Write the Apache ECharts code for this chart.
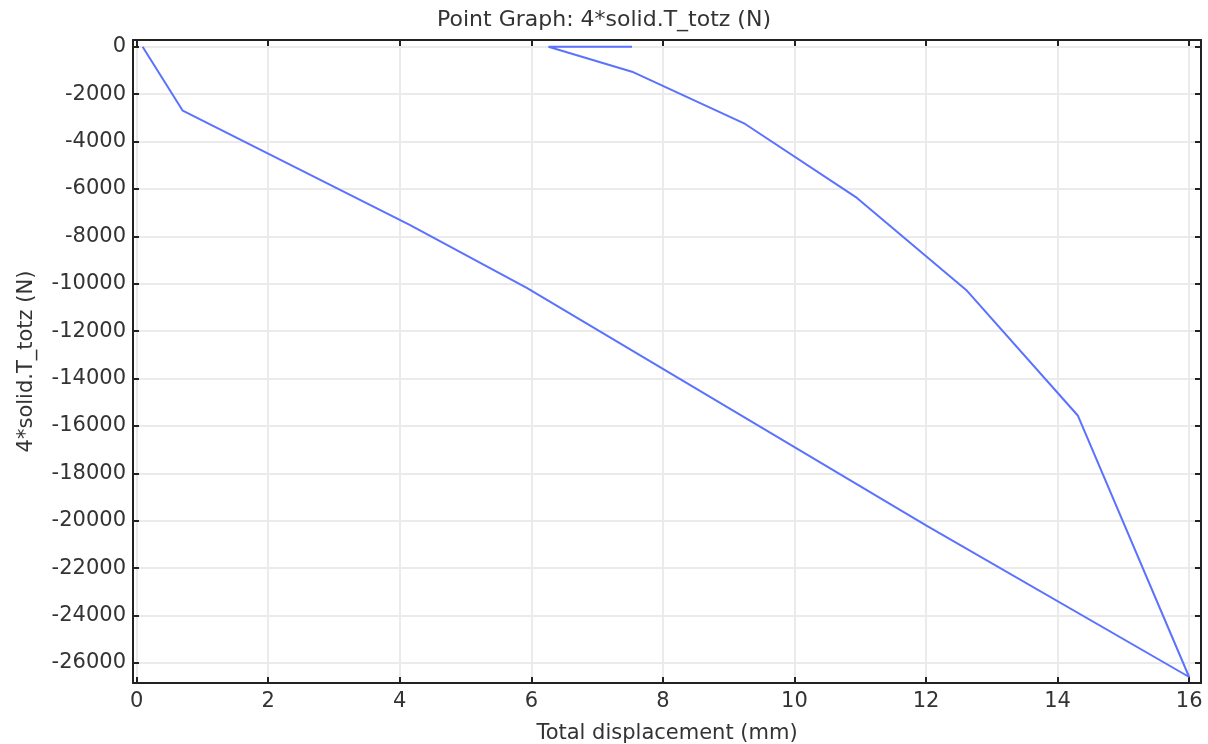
<!DOCTYPE html>
<html>
<head>
<meta charset="utf-8">
<script src="https://cdn.jsdelivr.net/npm/echarts@6/dist/echarts.min.js"></script>
<style>html,body{margin:0;padding:0;background:#fff}#c{width:1208px;height:744px}</style>
</head>
<body>
<div id="c"></div>
<script>
// Data (displacement in mm, force in N), in path order
const displacement = [0.09, 0.70, 4.15, 5.93, 12.0, 16.0, 14.31, 12.61, 10.95, 9.25, 7.53, 6.26, 7.53];
const force = [0, -2700, -7520, -10175, -20190, -26590, -15570, -10260, -6380, -3260, -1054, 0, 0];
const xTicks = [0, 2, 4, 6, 8, 10, 12, 14, 16];
const yTicks = [0, -2000, -4000, -6000, -8000, -10000, -12000, -14000, -16000, -18000, -20000, -22000, -24000, -26000];

const FONT = '"DejaVu Sans", sans-serif';
const FS = 21;
const chart = echarts.init(document.getElementById('c'), null, {renderer: 'canvas'});
const data = displacement.map((x, i) => [x, force[i]]);
const XMIN = -0.056, XMAX = 16.18, YMIN = -26843, YMAX = 282;

function xAxisCfg(pos, show) {
  return {
    type: 'value', position: pos, min: XMIN, max: XMAX,
    name: show ? 'Total displacement (mm)' : '',
    nameLocation: 'middle', nameGap: 40,
    nameTextStyle: {fontFamily: FONT, fontSize: FS, color: '#333'},
    axisLine: {show: true, onZero: false, lineStyle: {color: '#222', width: 2}},
    axisTick: {show: true, inside: true, length: 6, customValues: xTicks, lineStyle: {color: '#222', width: 2}},
    axisLabel: {show: show, customValues: xTicks, formatter: v => String(v), fontFamily: FONT, fontSize: FS, color: '#333', margin: 8},
    splitLine: {show: show, customValues: xTicks, lineStyle: {color: '#ebebeb', width: 2}}
  };
}
function yAxisCfg(pos, show) {
  return {
    type: 'value', position: pos, min: YMIN, max: YMAX,
    name: show ? '4*solid.T_totz (N)' : '',
    nameLocation: 'middle', nameGap: 96, nameRotate: 90,
    nameTextStyle: {fontFamily: FONT, fontSize: FS, color: '#333'},
    axisLine: {show: true, onZero: false, lineStyle: {color: '#222', width: 2}},
    axisTick: {show: true, inside: true, length: 6, customValues: yTicks, lineStyle: {color: '#222', width: 2}},
    axisLabel: {show: show, customValues: yTicks, formatter: v => String(v), fontFamily: FONT, fontSize: FS, color: '#333', margin: 7},
    splitLine: {show: show, customValues: yTicks, lineStyle: {color: '#ebebeb', width: 2}}
  };
}

chart.setOption({
  animation: false,
  backgroundColor: '#fff',
  title: {
    text: 'Point Graph: 4*solid.T_totz (N)', left: 'center', top: 4,
    textStyle: {fontFamily: FONT, fontSize: 22, fontWeight: 'normal', color: '#333'}
  },
  grid: {left: 133, right: 7, top: 40, bottom: 61, containLabel: false, outerBoundsMode: 'none'},
  xAxis: [xAxisCfg('bottom', true), xAxisCfg('top', false)],
  yAxis: [yAxisCfg('left', true), yAxisCfg('right', false)],
  series: [{
    type: 'line', xAxisIndex: 0, yAxisIndex: 0, data: data,
    showSymbol: false, symbol: 'none',
    lineStyle: {color: '#5b72ff', width: 2}
  }]
});
</script>
</body>
</html>
